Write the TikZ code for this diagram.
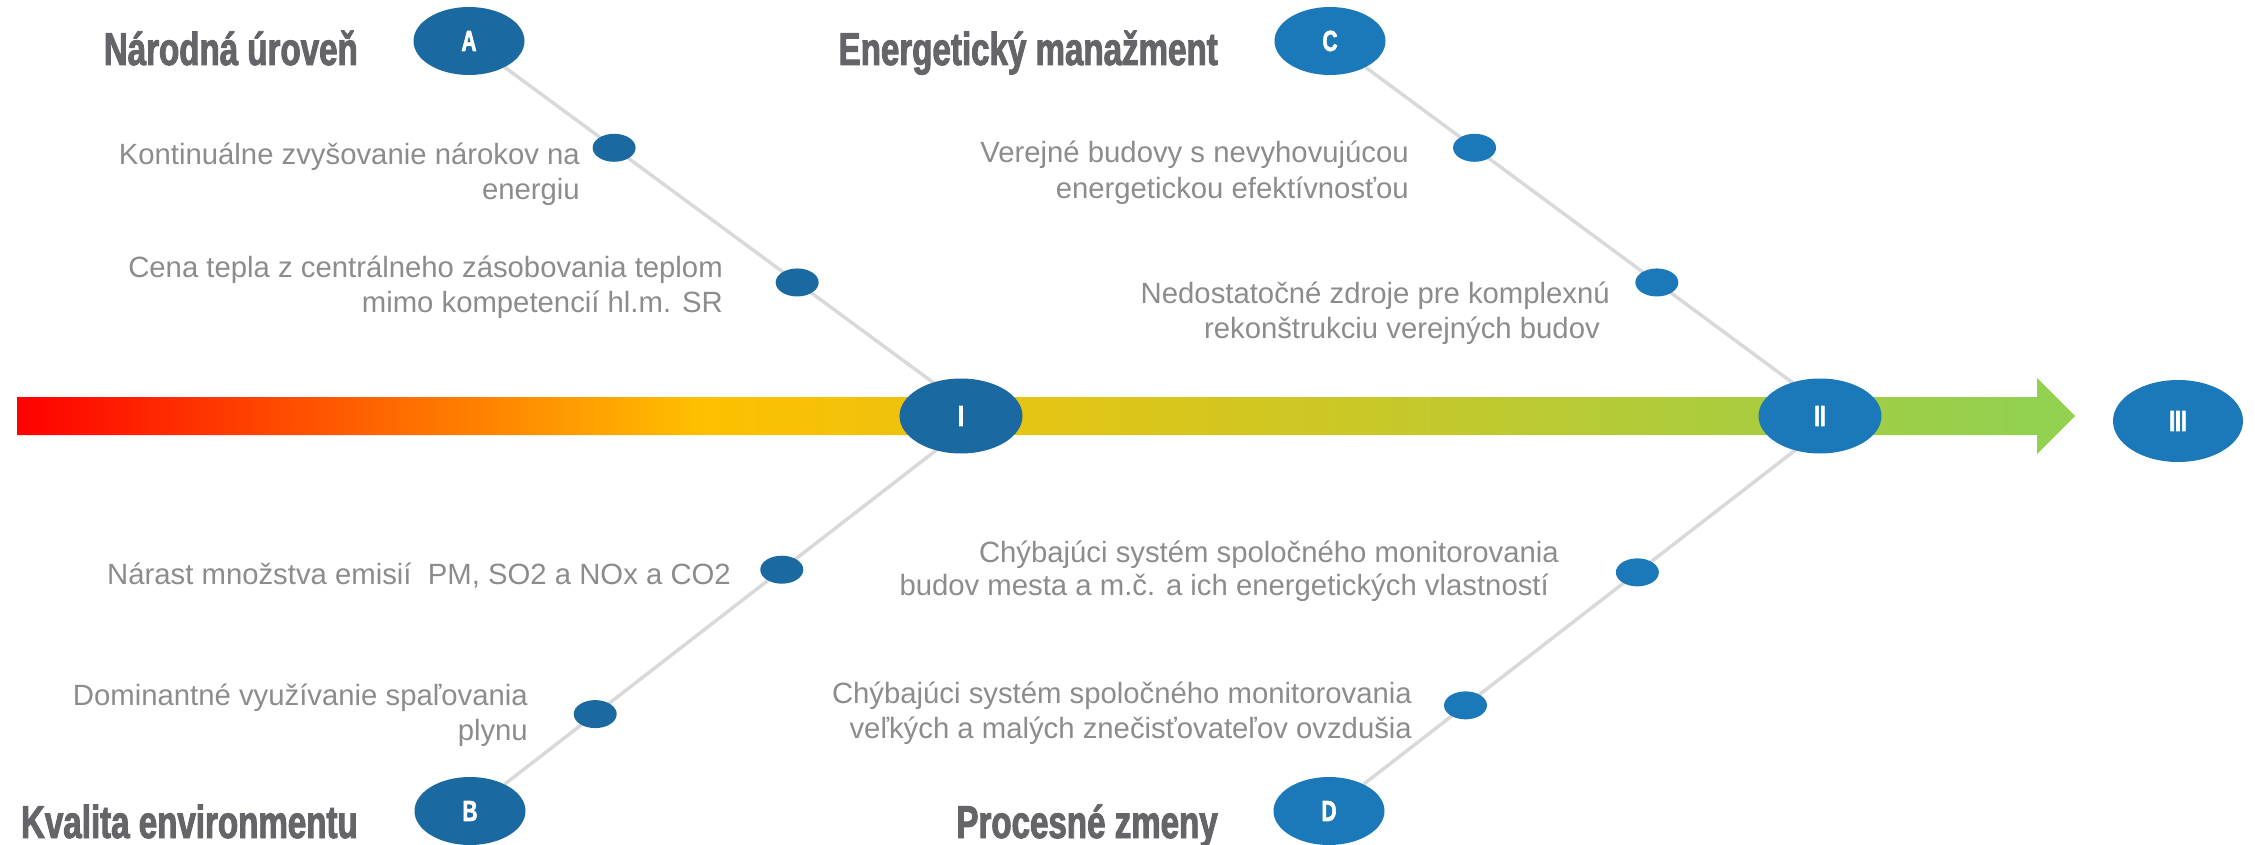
\documentclass[tikz,border=0pt]{standalone}
\usepackage{fontspec}
\setmainfont{Liberation Sans}
\newfontfamily\titlefont[FakeStretch=0.72,FakeBold=2]{Liberation Sans}
\usetikzlibrary{shapes.geometric,calc,backgrounds}
\definecolor{darkblue}{HTML}{1A69A1}
\definecolor{lightblue}{HTML}{1C79B9}
\definecolor{linegray}{HTML}{D9D9D9}
\definecolor{txtgray}{HTML}{8C8C8C}
\definecolor{ttlgray}{HTML}{646469}
\definecolor{barred}{HTML}{FF0000}
\definecolor{bargold}{HTML}{FFC000}
\definecolor{bargreen}{HTML}{92D050}
\pgfdeclarehorizontalshading{barshade}{100bp}{color(0bp)=(barred); color(25bp)=(barred); color(41.6bp)=(bargold); color(74bp)=(bargreen); color(100bp)=(bargreen)}
\begin{document}
\begin{tikzpicture}[x=1pt,y=-1pt,
  bigell/.style={ellipse, fill=#1, minimum width=111pt, minimum height=68pt, inner sep=0pt,
    text=white, font=\titlefont\bfseries\fontsize{29}{29}\selectfont},
  midell/.style={bigell=#1, minimum width=123pt, minimum height=75pt},
  endell/.style={bigell=#1, minimum width=130pt, minimum height=82pt},
  dotell/.style={ellipse, fill=#1, minimum width=43pt, minimum height=28pt, inner sep=0pt},
  conn/.style={draw=linegray, line width=3.5pt},
  cause/.style={anchor=base east, align=right, inner sep=0pt, text=txtgray,
    font=\fontsize{29.3}{35.5}\selectfont},
  ttl/.style={anchor=base east, inner sep=0pt, text=ttlgray,
    font=\titlefont\bfseries\fontsize{46}{46}\selectfont}]
\useasboundingbox (0,0) rectangle (2255,845);

% big nodes
\node[bigell=darkblue] (A) at (469,41) {A};
\node[bigell=darkblue] (B) at (470,811) {B};
\node[bigell=lightblue] (C) at (1330,41) {C};
\node[bigell=lightblue] (D) at (1329,811) {D};
\node[midell=darkblue] (I) at (961,416) {I};
\node[midell=lightblue] (II) at (1820,416) {II};
\node[endell=lightblue] (III) at (2178,421) {III};

\coordinate (Iup) at (961,403);
\coordinate (Idn) at (961,431);
\coordinate (IIup) at (1820,403);
\coordinate (IIdn) at (1820,431);

\begin{pgfonlayer}{background}
% main arrow
\path[shading=barshade] (17,397) -- (2037,397) -- (2037,378) -- (2075,416) -- (2037,454) -- (2037,435) -- (17,435) -- cycle;
% connectors
\draw[conn] (A) -- (Iup);
\draw[conn] (B) -- (Idn);
\draw[conn] (C) -- (IIup);
\draw[conn] (D) -- (IIdn);
\end{pgfonlayer}

% dots
\node[dotell=darkblue] (a1) at ($(A.center)!0.295!(Iup)$) {};
\node[dotell=darkblue] (a2) at ($(A.center)!0.667!(Iup)$) {};
\node[dotell=darkblue] (b1) at ($(B.center)!0.635!(Idn)$) {};
\node[dotell=darkblue] (b2) at ($(B.center)!0.255!(Idn)$) {};
\node[dotell=lightblue] (c1) at ($(C.center)!0.295!(IIup)$) {};
\node[dotell=lightblue] (c2) at ($(C.center)!0.667!(IIup)$) {};
\node[dotell=lightblue] (d1) at ($(D.center)!0.628!(IIdn)$) {};
\node[dotell=lightblue] (d2) at ($(D.center)!0.278!(IIdn)$) {};

% titles
\node[ttl] (tA) at (358,65) {Národná úroveň};
\node[ttl] (tC) at (1218,65) {Energetický manažment};
\node[ttl] (tB) at (358,838) {Kvalita environmentu};
\node[ttl] (tD) at (1218,838) {Procesné zmeny};

% causes
\node[cause] (ta1) at (580,200) {Kontinuálne zvyšovanie nárokov na\\energiu};
\node[cause] (ta2) at (723,312.5) {Cena tepla z centrálneho zásobovania teplom\\mimo kompetencií hl.m. SR};
\node[cause] (tc1) at (1409,198.5) {Verejné budovy s nevyhovujúcou\\energetickou efektívnosťou};
\node[cause] (tc2) at (1610,338.5) {Nedostatočné zdroje pre komplexnú\\rekonštrukciu verejných budov\hspace*{10pt}};
\node[cause] (tb1) at (731,584) {Nárast množstva emisií\ \ PM, SO2 a NOx a CO2};
\node[cause] (tb2) at (528,740.5) {Dominantné využívanie spaľovania\\plynu};
\node[cause, font=\fontsize{29.3}{33}\selectfont] (td1) at (1559,595) {Chýbajúci systém spoločného monitorovania\\budov mesta a m.č. a ich energetických vlastností\hspace*{10pt}};
\node[cause] (td2) at (1412,738.5) {Chýbajúci systém spoločného monitorovania\\veľkých a malých znečisťovateľov ovzdušia};
\end{tikzpicture}
\end{document}
